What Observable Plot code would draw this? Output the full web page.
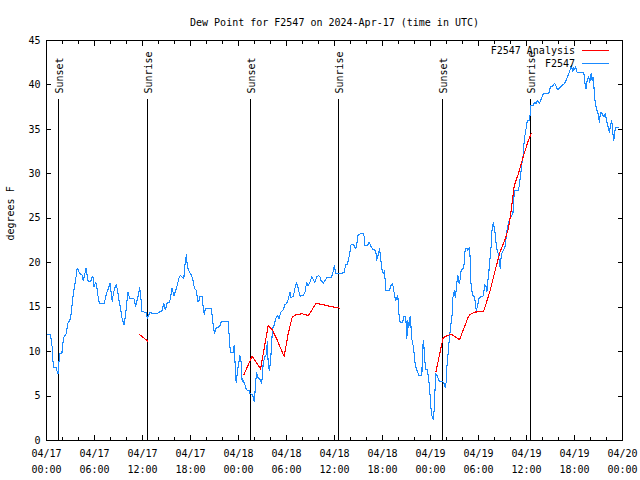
<!DOCTYPE html>
<html><head><meta charset="utf-8">
<script src="https://cdn.jsdelivr.net/npm/d3@7"></script>
<script src="https://cdn.jsdelivr.net/npm/@observablehq/plot@0.6"></script>
<style>body{margin:0;background:#fff} svg{display:block}</style>
</head><body><div id="chart"></div>
<script>
const titleText = "Dew Point for F2547 on 2024-Apr-17 (time in UTC)";
const yLabelText = "degrees F";
const legendLabels = ["F2547 Analysis", "F2547"];
const legendColors = ["#ff0000", "#1a8aff"];

// hours after 2024-04-17 00:00 UTC
const blueHours = [0.17,0.50,0.71,0.79,0.92,1.21,1.34,1.46,1.63,1.92,1.96,2.13,2.46,2.67,3.01,3.17,3.30,3.51,3.63,3.84,4.01,4.13,4.42,4.59,4.76,4.93,5.09,5.22,5.51,5.68,5.80,5.93,6.14,6.26,6.39,6.60,6.85,7.18,7.35,7.55,7.80,7.93,8.10,8.22,8.35,8.51,8.72,8.89,9.06,9.27,9.43,9.68,9.85,9.98,10.18,10.39,10.94,11.14,11.31,11.52,11.65,11.77,11.94,12.48,12.61,12.90,13.52,13.82,14.44,14.65,14.86,15.07,15.40,15.69,15.94,16.24,16.53,16.74,17.16,17.36,17.49,17.61,17.91,18.12,18.32,18.49,18.74,18.91,19.07,19.16,19.45,19.62,19.74,19.87,20.62,20.74,20.91,21.00,21.16,21.66,21.87,22.71,22.92,23.00,23.33,23.46,23.58,23.71,23.88,24.04,24.17,24.33,24.46,24.58,24.79,25.00,25.33,25.42,25.75,25.96,26.05,26.25,26.42,26.67,26.88,27.01,27.09,27.30,27.51,27.59,27.72,27.84,28.01,28.13,28.26,28.47,28.63,28.88,29.09,29.26,29.47,29.59,29.80,30.01,30.22,30.43,30.55,30.85,31.05,31.26,31.47,31.68,32.10,32.31,32.52,32.72,32.93,33.14,33.35,33.56,33.77,33.98,34.19,34.31,34.60,34.81,35.02,35.65,35.86,35.98,36.15,36.48,36.90,37.19,37.40,37.61,37.86,38.07,38.28,38.45,38.65,38.78,38.90,39.19,39.32,39.61,39.74,39.82,40.11,40.32,40.53,40.74,40.95,41.16,41.28,41.49,41.62,41.74,41.91,42.12,42.24,42.32,42.41,42.87,43.04,43.24,43.37,43.49,43.66,43.91,44.08,44.20,44.54,44.62,44.91,45.04,45.16,45.29,45.45,45.54,45.66,45.87,46.08,46.29,46.58,46.92,47.00,47.12,47.21,47.33,47.42,47.62,47.71,47.88,48.04,48.17,48.38,48.46,48.59,48.67,48.88,49.13,49.55,49.71,49.84,49.96,50.05,50.21,50.34,50.46,50.59,50.76,50.80,51.01,51.09,51.21,51.30,51.42,51.59,51.72,51.84,52.05,52.22,52.34,52.55,52.68,52.88,52.97,53.05,53.26,53.47,53.59,53.72,53.89,54.09,54.43,54.64,54.76,54.97,55.05,55.18,55.35,55.47,55.60,55.68,55.85,56.06,56.27,56.48,56.72,56.81,56.93,57.14,57.35,57.50,57.77,58.10,58.30,58.48,59.00,59.20,59.39,59.60,59.73,59.94,60.10,60.36,60.44,60.57,60.86,60.98,61.19,61.39,61.60,61.82,62.10,62.78,62.99,63.28,63.53,63.74,63.90,64.24,64.66,64.86,65.07,65.28,65.49,65.61,65.78,65.90,66.03,66.15,66.33,67.16,67.28,67.45,67.58,67.78,67.90,68.08,68.20,68.33,68.41,68.53,68.75,68.91,69.12,69.25,69.46,69.66,69.87,70.00,70.16,70.37,70.50,70.66,70.78,70.91,71.12,71.33,71.50];
const blueValues = [11.9,11.9,10.5,9.0,8.25,8.25,7.7,7.5,9.75,9.75,10.2,11.55,12.0,13.2,13.7,15.0,16.1,17.4,18.0,19.4,19.1,18.75,18.7,18.0,18.6,19.4,18.55,17.85,17.85,18.4,18.5,17.25,17.8,17.6,16.5,15.45,15.4,15.4,15.95,16.7,17.25,17.7,16.5,15.6,16.5,17.1,17.5,16.9,15.75,14.8,13.8,13.0,13.95,15.0,16.7,16.0,15.95,15.1,15.75,16.5,17.2,16.3,14.5,14.4,13.7,14.4,14.25,14.3,14.6,15.45,14.7,15.45,15.6,17.1,16.3,17.1,18.2,18.6,18.2,20.25,20.9,19.5,18.9,18.6,18.0,17.1,16.9,15.6,15.75,16.2,16.2,14.7,14.2,14.9,14.9,13.6,12.6,12.0,12.6,12.85,13.4,13.4,10.7,9.85,9.85,10.7,8.6,6.5,7.9,8.7,9.6,8.8,6.6,6.75,6.3,5.7,5.6,5.25,5.2,4.4,5.25,7.7,7.1,6.9,6.4,7.5,8.8,9.4,9.75,11.1,8.6,7.9,8.8,10.85,12.6,13.0,13.7,14.05,13.7,14.4,14.6,14.7,15.3,15.4,15.9,16.7,16.1,16.2,17.1,17.8,17.1,16.25,16.3,16.7,17.8,17.4,17.8,18.4,18.1,17.8,18.4,18.55,18.4,18.0,17.7,18.0,18.3,18.4,19.1,19.7,18.8,18.75,18.8,18.9,19.75,19.85,20.8,22.05,22.1,21.9,21.55,21.9,23.05,23.25,23.3,23.3,22.8,21.9,21.9,22.3,21.9,21.55,21.45,21.35,20.3,21.0,21.55,20.8,19.3,18.75,19.1,18.2,16.9,16.9,17.45,17.6,17.25,16.3,15.8,16.3,13.95,13.3,13.3,13.95,13.9,11.45,13.5,12.75,13.95,13.1,11.45,10.5,8.6,7.9,7.3,7.3,10.1,11.3,10.1,8.6,7.95,7.95,7.3,6.0,3.75,2.8,2.36,3.56,6.2,7.5,7.2,6.6,6.6,6.4,5.9,6.6,8.3,9.9,11.25,12.4,13.4,14.6,16.1,16.9,16.1,16.9,17.8,18.55,17.6,18.2,19.2,19.3,19.9,21.6,21.6,21.4,21.7,20.3,17.8,16.3,16.2,15.6,14.55,15.2,16.1,16.2,16.3,17.6,17.25,16.8,18.0,19.5,20.8,22.1,23.6,24.55,23.4,21.6,21.0,19.3,20.4,21.1,21.4,21.9,23.4,24.55,25.3,25.5,28.1,28.1,29.4,30.9,32.25,33.9,35.05,36.0,36.0,36.55,37.7,37.7,38.05,37.9,38.25,37.9,38.4,39.0,39.0,39.75,39.9,40.2,39.75,39.45,39.75,40.1,40.3,40.8,41.25,41.8,42.2,41.5,42.0,41.7,42.05,41.4,41.4,40.3,39.55,40.5,40.9,40.3,41.25,40.5,40.9,40.1,38.4,37.3,36.9,35.8,36.95,36.75,36.4,36.75,36.0,35.4,34.7,35.4,36.0,34.7,33.8,35.25,35.25,35.25];

const redHours = [11.65,12.15,12.68, 24.67,25.71,26.76,27.71,28.26,28.76,29.71,30.21,30.72,31.27,32.02,32.72,33.68,34.19,35.44,36.60, 48.67,49.55,49.84,50.59,51.63,52.68,52.97,53.59,54.63,55.47,56.10,56.72,57.35,57.73,58.06,58.48,58.98,59.39,59.82,60.23,60.57];
const redValues = [11.9,11.55,11.15, 7.4,9.5,8.05,12.9,12.4,11.45,9.45,12.0,13.9,14.2,14.25,14.05,15.4,15.35,15.1,14.9, 7.7,11.45,11.7,11.95,11.35,13.8,14.2,14.45,14.5,16.9,19.2,21.3,22.7,23.8,25.7,28.7,30.0,31.3,32.6,33.75,34.5];
const redSegments = [1,1,1, 2,2,2,2,2,2,2,2,2,2,2,2,2,2,2,2, 3,3,3,3,3,3,3,3,3,3,3,3,3,3,3,3,3,3,3,3,3];

const eventHours = [1.5, 12.6, 25.55, 36.5, 49.5, 60.5];
const eventLabels = ["Sunset", "Sunrise", "Sunset", "Sunrise", "Sunset", "Sunrise"];

const majorTickHours = [0,6,12,18,24,30,36,42,48,54,60,66,72];
const xTickLabels = ["04/17\n00:00","04/17\n06:00","04/17\n12:00","04/17\n18:00","04/18\n00:00","04/18\n06:00","04/18\n12:00","04/18\n18:00","04/19\n00:00","04/19\n06:00","04/19\n12:00","04/19\n18:00","04/20\n00:00"];
const minorTickHours = [2,4,8,10,14,16,20,22,26,28,32,34,38,40,44,46,50,52,56,58,62,64,68,70];
const yTicks = [0,5,10,15,20,25,30,35,40,45];

const startUTC = Date.UTC(2024, 3, 17);
const toDate = h => new Date(startUTC + h * 3600000);
const font = "DejaVu Sans Mono";

const blue = blueHours.map((h, i) => ({t: toDate(h), v: blueValues[i]}));
const red = redHours.map((h, i) => ({t: toDate(h), v: redValues[i], s: redSegments[i]}));
const events = eventHours.map((h, i) => ({t: toDate(h), label: eventLabels[i]}));
const majorDates = majorTickHours.map(toDate);
const minorDates = minorTickHours.map(toDate);
const labelFor = d => xTickLabels[majorTickHours.indexOf(Math.round((d - startUTC) / 3600000))];

function legendMark(index, scales, values, dimensions) {
  const {width, marginRight, marginTop} = dimensions;
  const xr = width - marginRight;
  const g = d3.create("svg:g").attr("font-family", font).attr("font-size", 10).attr("fill", "#000");
  legendLabels.forEach((lab, i) => {
    const y = marginTop + 10.5 + 13 * i;
    g.append("text").attr("x", xr - 47).attr("y", y).attr("dy", "0.32em").attr("text-anchor", "end").text(lab);
    g.append("line").attr("x1", xr - 40).attr("x2", xr - 13).attr("y1", y).attr("y2", y)
      .attr("stroke", legendColors[i]).attr("stroke-width", 1).attr("shape-rendering", "crispEdges");
  });
  return g.node();
}

const chart = Plot.plot({
  width: 640, height: 480,
  marginLeft: 46, marginRight: 18, marginTop: 40, marginBottom: 40,
  style: {fontFamily: font, fontSize: "10px", background: "#fff", color: "#000", overflow: "visible"},
  x: {type: "utc", domain: [toDate(0), toDate(72)]},
  y: {domain: [0, 45]},
  marks: [
    // event rules and labels
    Plot.ruleX(events, {x: "t", stroke: "#000", strokeWidth: 1, insetTop: 59, shapeRendering: "crispEdges"}),
    Plot.text(events, {x: "t", text: "label", frameAnchor: "top", dy: 53, dx: 1, rotate: -90, textAnchor: "start", lineAnchor: "middle", fill: "#000"}),
    // data
    Plot.line(blue, {x: "t", y: "v", stroke: legendColors[1], strokeWidth: 1.1, shapeRendering: "crispEdges"}),
    Plot.line(red, {x: "t", y: "v", z: "s", stroke: legendColors[0], strokeWidth: 1.1, shapeRendering: "crispEdges"}),
    // ticks (inward) on all sides
    Plot.axisX(majorDates, {anchor: "bottom", tickSize: -5, fill: "none", label: null, shapeRendering: "crispEdges"}),
    Plot.axisX(minorDates, {anchor: "bottom", tickSize: -3, fill: "none", label: null, shapeRendering: "crispEdges"}),
    Plot.axisX(majorDates, {anchor: "top", tickSize: -5, fill: "none", label: null, shapeRendering: "crispEdges"}),
    Plot.axisX(minorDates, {anchor: "top", tickSize: -3, fill: "none", label: null, shapeRendering: "crispEdges"}),
    Plot.axisY(yTicks, {anchor: "left", tickSize: -5, fill: "none", label: null, shapeRendering: "crispEdges"}),
    Plot.axisY(yTicks, {anchor: "right", tickSize: -5, fill: "none", label: null, shapeRendering: "crispEdges"}),
    // tick labels
    Plot.axisX(majorDates, {anchor: "bottom", tickSize: 0, tickPadding: 5, tickFormat: labelFor, lineHeight: 1.6, label: null}),
    Plot.axisY(yTicks, {anchor: "left", tickSize: 0, tickPadding: 6, label: null}),
    Plot.frame({stroke: "#000", shapeRendering: "crispEdges"}),
    // title and y label
    Plot.text([titleText], {frameAnchor: "top", dy: -22, fill: "#000"}),
    Plot.text([yLabelText], {frameAnchor: "left", dx: -36, rotate: -90, fill: "#000"}),
    legendMark
  ]
});
document.getElementById("chart").appendChild(chart);
</script>
</body></html>
